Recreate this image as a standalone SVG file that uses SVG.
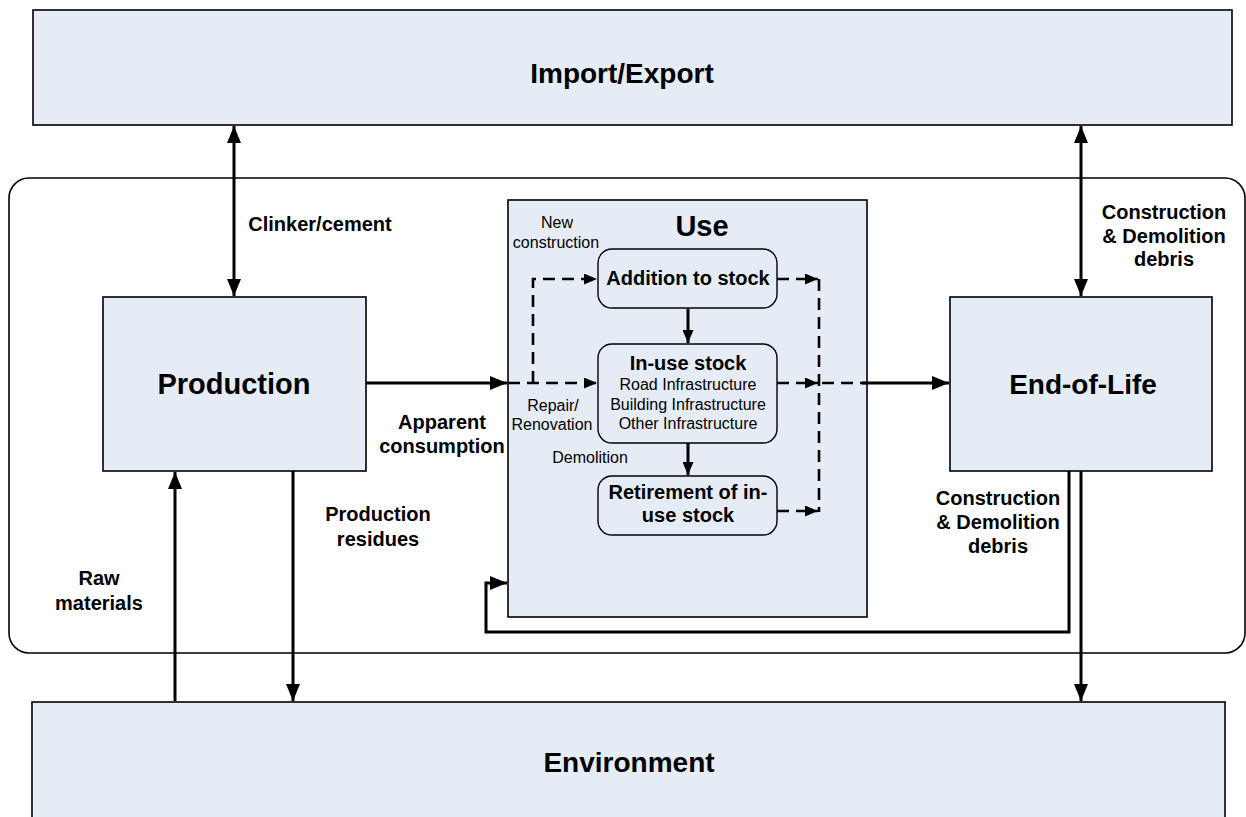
<svg xmlns="http://www.w3.org/2000/svg" width="1246" height="817" viewBox="0 0 1246 817">
<style>
.box{fill:#e5ecf6;stroke:#000;stroke-width:1.6}
.rbox{fill:#e5ecf6;stroke:#000;stroke-width:1.4}
.t{font-family:"Liberation Sans",Arial,sans-serif;fill:#000;text-anchor:middle}
.big{font-size:29px;font-weight:bold}
.lbl{font-size:20px;font-weight:bold}
.sm{font-size:16px}
.ln{fill:none;stroke:#000;stroke-width:3}
.ds{fill:none;stroke:#000;stroke-width:2.6;stroke-dasharray:12,7}
</style>
<defs>
<marker id="ah" markerUnits="userSpaceOnUse" markerWidth="18" markerHeight="14" refX="17" refY="7" orient="auto-start-reverse" viewBox="0 0 18 14"><path d="M0,0 L17,7 L0,14 Z" fill="#000"/></marker>
<marker id="as" markerUnits="userSpaceOnUse" markerWidth="14" markerHeight="11" refX="13" refY="5.5" orient="auto" viewBox="0 0 14 11"><path d="M0,0 L13,5.5 L0,11 Z" fill="#000"/></marker>
</defs>

<g id="system">
<rect x="9" y="178" width="1236" height="475" rx="20" ry="20" fill="none" stroke="#000" stroke-width="1.6"/>
</g>

<g id="importexport">
<rect class="box" x="33" y="10" width="1199" height="115"/>
<text class="t" x="622" y="83" font-size="28" font-weight="bold">Import/Export</text>
</g>

<g id="environment">
<rect class="box" x="32" y="702" width="1193" height="125"/>
<text class="t" x="629" y="772" font-size="28" font-weight="bold">Environment</text>
</g>

<g id="production">
<rect class="box" x="103" y="297" width="263" height="174"/>
<text class="t big" x="234" y="394">Production</text>
</g>

<g id="endoflife">
<rect class="box" x="950" y="297" width="262" height="174"/>
<text class="t" x="1083" y="394" font-size="28" font-weight="bold">End-of-Life</text>
</g>

<g id="use">
<rect class="box" x="508" y="200" width="359" height="417"/>
<text class="t big" x="702" y="236">Use</text>
<text class="t sm" x="557" y="228">New</text>
<text class="t sm" x="556" y="248">construction</text>
<text class="t sm" x="553" y="411">Repair/</text>
<text class="t sm" x="552" y="430">Renovation</text>
<text class="t sm" x="590" y="463">Demolition</text>
</g>

<g id="addition">
<rect class="rbox" x="598" y="249" width="179" height="59" rx="14" ry="14"/>
<text class="t lbl" x="688" y="285">Addition to stock</text>
</g>

<g id="inuse">
<rect class="rbox" x="598" y="344" width="179" height="99" rx="14" ry="14"/>
<text class="t lbl" x="688" y="370">In-use stock</text>
<text class="t sm" x="688" y="390">Road Infrastructure</text>
<text class="t sm" x="688" y="410">Building Infrastructure</text>
<text class="t sm" x="688" y="429">Other Infrastructure</text>
</g>

<g id="retirement">
<rect class="rbox" x="598" y="476" width="179" height="59" rx="14" ry="14"/>
<text class="t lbl" x="688" y="499">Retirement of in-</text>
<text class="t lbl" x="688" y="522">use stock</text>
</g>

<g id="connectors">
<line class="ln" x1="234" y1="126" x2="234" y2="296" marker-start="url(#ah)" marker-end="url(#ah)"/>
<line class="ln" x1="1081" y1="126" x2="1081" y2="296" marker-start="url(#ah)" marker-end="url(#ah)"/>
<line class="ln" x1="175" y1="701" x2="175" y2="472" marker-end="url(#ah)"/>
<line class="ln" x1="293" y1="471" x2="293" y2="701" marker-end="url(#ah)"/>
<line class="ln" x1="1081" y1="471" x2="1081" y2="701" marker-end="url(#ah)"/>
<line class="ln" x1="366" y1="383" x2="507" y2="383" marker-end="url(#ah)"/>
<line class="ln" x1="862" y1="383" x2="949" y2="383" marker-end="url(#ah)"/>
<polyline class="ln" points="1069,471 1069,632 486,632 486,583 507,583" marker-end="url(#ah)"/>
<line class="ds" x1="508" y1="383" x2="597" y2="383" marker-end="url(#as)"/>
<polyline class="ds" points="533,383 533,279 597,279" marker-end="url(#as)"/>
<line class="ds" x1="777" y1="383" x2="818" y2="383" marker-end="url(#as)"/>
<line class="ds" x1="822" y1="383" x2="866" y2="383"/>
<line class="ds" x1="777" y1="279" x2="818" y2="279" marker-end="url(#as)"/>
<line class="ds" x1="777" y1="511" x2="818" y2="511" marker-end="url(#as)"/>
<line class="ds" x1="819" y1="279" x2="819" y2="512"/>
<line class="ln" x1="688" y1="309" x2="688" y2="343" stroke-width="2.6" marker-end="url(#as)"/>
<line class="ln" x1="688" y1="443" x2="688" y2="475" stroke-width="2.6" marker-end="url(#as)"/>
</g>

<g id="labels">
<text class="t lbl" x="320" y="231">Clinker/cement</text>
<text class="t lbl" x="1164" y="219">Construction</text>
<text class="t lbl" x="1164" y="243">&amp; Demolition</text>
<text class="t lbl" x="1164" y="266">debris</text>
<text class="t lbl" x="998" y="505">Construction</text>
<text class="t lbl" x="998" y="529">&amp; Demolition</text>
<text class="t lbl" x="998" y="553">debris</text>
<text class="t lbl" x="442" y="429">Apparent</text>
<text class="t lbl" x="442" y="453">consumption</text>
<text class="t lbl" x="378" y="521">Production</text>
<text class="t lbl" x="378" y="546">residues</text>
<text class="t lbl" x="99" y="585">Raw</text>
<text class="t lbl" x="99" y="610">materials</text>
</g>
</svg>
